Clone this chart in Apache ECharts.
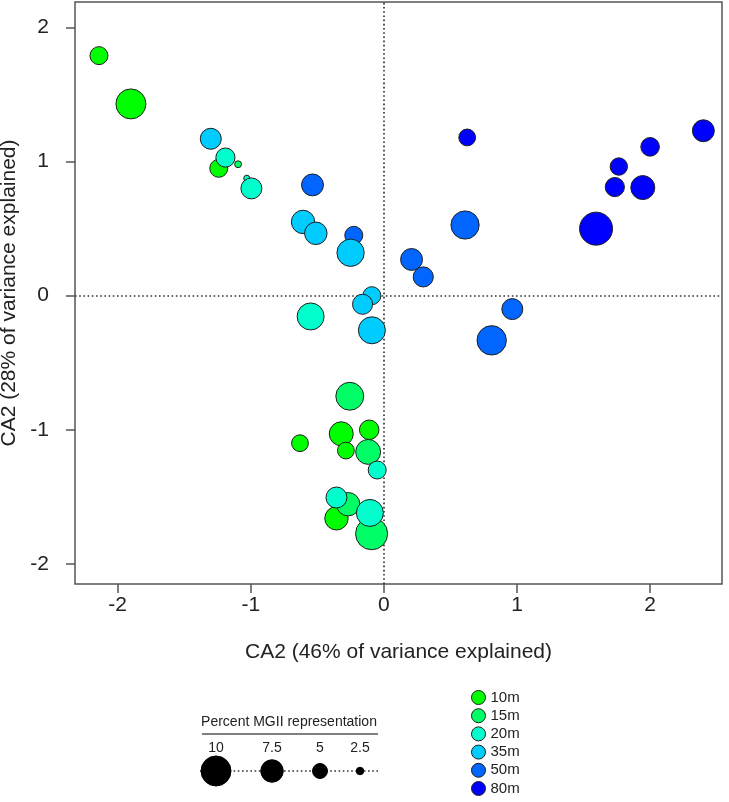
<!DOCTYPE html>
<html>
<head>
<meta charset="utf-8">
<script src="https://cdn.jsdelivr.net/npm/echarts@6/dist/echarts.min.js"></script>
<style>
html,body{margin:0;padding:0;background:#fff;}
#chart{width:729px;height:802px;}
</style>
</head>
<body>
<div id="chart"></div>
<script>
// Each point: [CA1 score, CA2 score, percent MGII representation]
const depths = ['10m', '15m', '20m', '35m', '50m', '80m'];
const depthColors = ['#00FF00', '#00FF66', '#00FFCC', '#00CCFF', '#0066FF', '#0000FF'];

const d10 = [
  [-2.14, 1.79, 6], [-1.90, 1.43, 10], [-1.24, 0.95, 6],
  [-0.32, -1.03, 8], [-0.11, -1.00, 6.5], [-0.63, -1.10, 5.6],
  [-0.285, -1.155, 5.6], [-0.356, -1.66, 7.8]
];
const d15 = [
  [-1.095, 0.98, 2.3], [-0.256, -0.75, 9.3], [-0.118, -1.165, 8.3],
  [-0.268, -1.555, 7.8], [-0.092, -1.775, 10.7]
];
const d20 = [
  [-1.19, 1.03, 6.4], [-1.03, 0.876, 2], [-0.995, 0.80, 7],
  [-0.55, -0.155, 9], [-0.05, -1.30, 6], [-0.356, -1.505, 7],
  [-0.105, -1.62, 9]
];
const d35 = [
  [-1.30, 1.17, 7], [-0.607, 0.55, 7.8], [-0.511, 0.465, 7.5],
  [-0.25, 0.32, 9.1], [-0.09, 0.0, 6], [-0.16, -0.064, 6.7],
  [-0.09, -0.258, 9]
];
const d50 = [
  [-0.536, 0.826, 7.3], [-0.226, 0.45, 6], [0.208, 0.27, 7.3],
  [0.296, 0.14, 6.7], [0.61, 0.527, 9.4], [0.965, -0.10, 7],
  [0.81, -0.333, 9.8]
];
const d80 = [
  [0.626, 1.18, 5.6], [2.40, 1.23, 7.3], [2.0, 1.11, 6.2],
  [1.765, 0.963, 5.8], [1.735, 0.81, 6.4], [1.945, 0.806, 8],
  [1.594, 0.50, 11]
];
const seriesData = { '10m': d10, '15m': d15, '20m': d20, '35m': d35, '50m': d50, '80m': d80 };

const axisTicks = [-2, -1, 0, 1, 2];
const sizeLegendValues = [10, 7.5, 5, 2.5];
const sizeLegendTitle = 'Percent MGII representation';
const xTitle = 'CA2 (46% of variance explained)';
const yTitle = 'CA2 (28% of variance explained)';

const FONT = 'Liberation Sans, Arial, Helvetica, sans-serif';
const PX_PER_UNIT = 3; // symbol diameter per percent
const sizeOf = v => v * PX_PER_UNIT;

// draw order (50m beneath 35m where they overlap)
const drawOrder = ['10m', '15m', '20m', '50m', '35m', '80m'];

const series = drawOrder.map((name, i) => {
  const s = {
    name: name,
    type: 'scatter',
    data: seriesData[name],
    symbol: 'circle',
    symbolSize: v => sizeOf(v[2]),
    itemStyle: { color: depthColors[depths.indexOf(name)], borderColor: '#1e1e1e', borderWidth: 1, opacity: 1 },
    emphasis: { disabled: true },
    z: 3
  };
  if (i === 0) {
    s.markLine = {
      silent: true,
      symbol: 'none',
      label: { show: false },
      lineStyle: { color: '#333', type: [1.6, 2.6], width: 1.7 },
      data: [{ xAxis: 0 }, { yAxis: 0 }],
      z: 1
    };
  }
  return s;
});

// size legend graphics
const sizeX = [216, 272, 320, 360];
const graphics = [
  { type: 'text', style: { text: sizeLegendTitle, x: 289, y: 722, align: 'center', verticalAlign: 'middle', font: '14px ' + FONT, fill: '#222' } },
  { type: 'line', shape: { x1: 202, y1: 734, x2: 378, y2: 734 }, style: { stroke: '#555', lineWidth: 1.5 } },
  { type: 'line', shape: { x1: 200, y1: 771, x2: 378, y2: 771 }, style: { stroke: '#333', lineWidth: 1.6, lineDash: [1.6, 2.6] } }
];
sizeLegendValues.forEach((v, i) => {
  graphics.push({ type: 'text', style: { text: String(v), x: sizeX[i], y: 748, align: 'center', verticalAlign: 'middle', font: '14px ' + FONT, fill: '#222' } });
  graphics.push({ type: 'circle', shape: { cx: sizeX[i], cy: 771, r: sizeOf(v) / 2 }, style: { fill: '#000', stroke: '#000', lineWidth: 1 } });
});

const chart = echarts.init(document.getElementById('chart'), null, { renderer: 'canvas' });
chart.setOption({
  backgroundColor: '#fff',
  animation: false,
  textStyle: { fontFamily: FONT },
  grid: {
    left: 75, right: 7, top: 2, bottom: 218,
    show: true, borderColor: '#555', borderWidth: 1.5,
    containLabel: false, outerBoundsMode: 'none'
  },
  xAxis: {
    type: 'value', min: -2.32, max: 2.54,
    name: xTitle, nameLocation: 'middle', nameGap: 58,
    nameTextStyle: { fontSize: 21, color: '#222', fontFamily: FONT },
    axisLine: { show: false, onZero: false },
    axisTick: { show: true, inside: false, length: 9, customValues: axisTicks, lineStyle: { color: '#555', width: 1.5 } },
    axisLabel: { customValues: axisTicks, fontSize: 21, color: '#222', margin: 11, fontFamily: FONT },
    splitLine: { show: false }
  },
  yAxis: {
    type: 'value', min: -2.15, max: 2.19,
    name: yTitle, nameLocation: 'middle', nameGap: 44,
    nameTextStyle: { fontSize: 21, color: '#222', fontFamily: FONT },
    axisLine: { show: false, onZero: false },
    axisTick: { show: true, inside: false, length: 9, customValues: axisTicks, lineStyle: { color: '#555', width: 1.5 } },
    axisLabel: { customValues: axisTicks, fontSize: 21, color: '#222', margin: 26, fontFamily: FONT },
    splitLine: { show: false }
  },
  legend: {
    data: depths,
    orient: 'vertical',
    left: 471, top: 690, height: 140,
    padding: 0,
    itemWidth: 14, itemHeight: 14, itemGap: 3.2,
    icon: 'circle',
    itemStyle: { borderColor: '#1e1e1e', borderWidth: 1 },
    textStyle: { fontSize: 15, lineHeight: 14, color: '#222', fontFamily: FONT },
    selectedMode: false
  },
  graphic: graphics,
  series: series
});
</script>
</body>
</html>
